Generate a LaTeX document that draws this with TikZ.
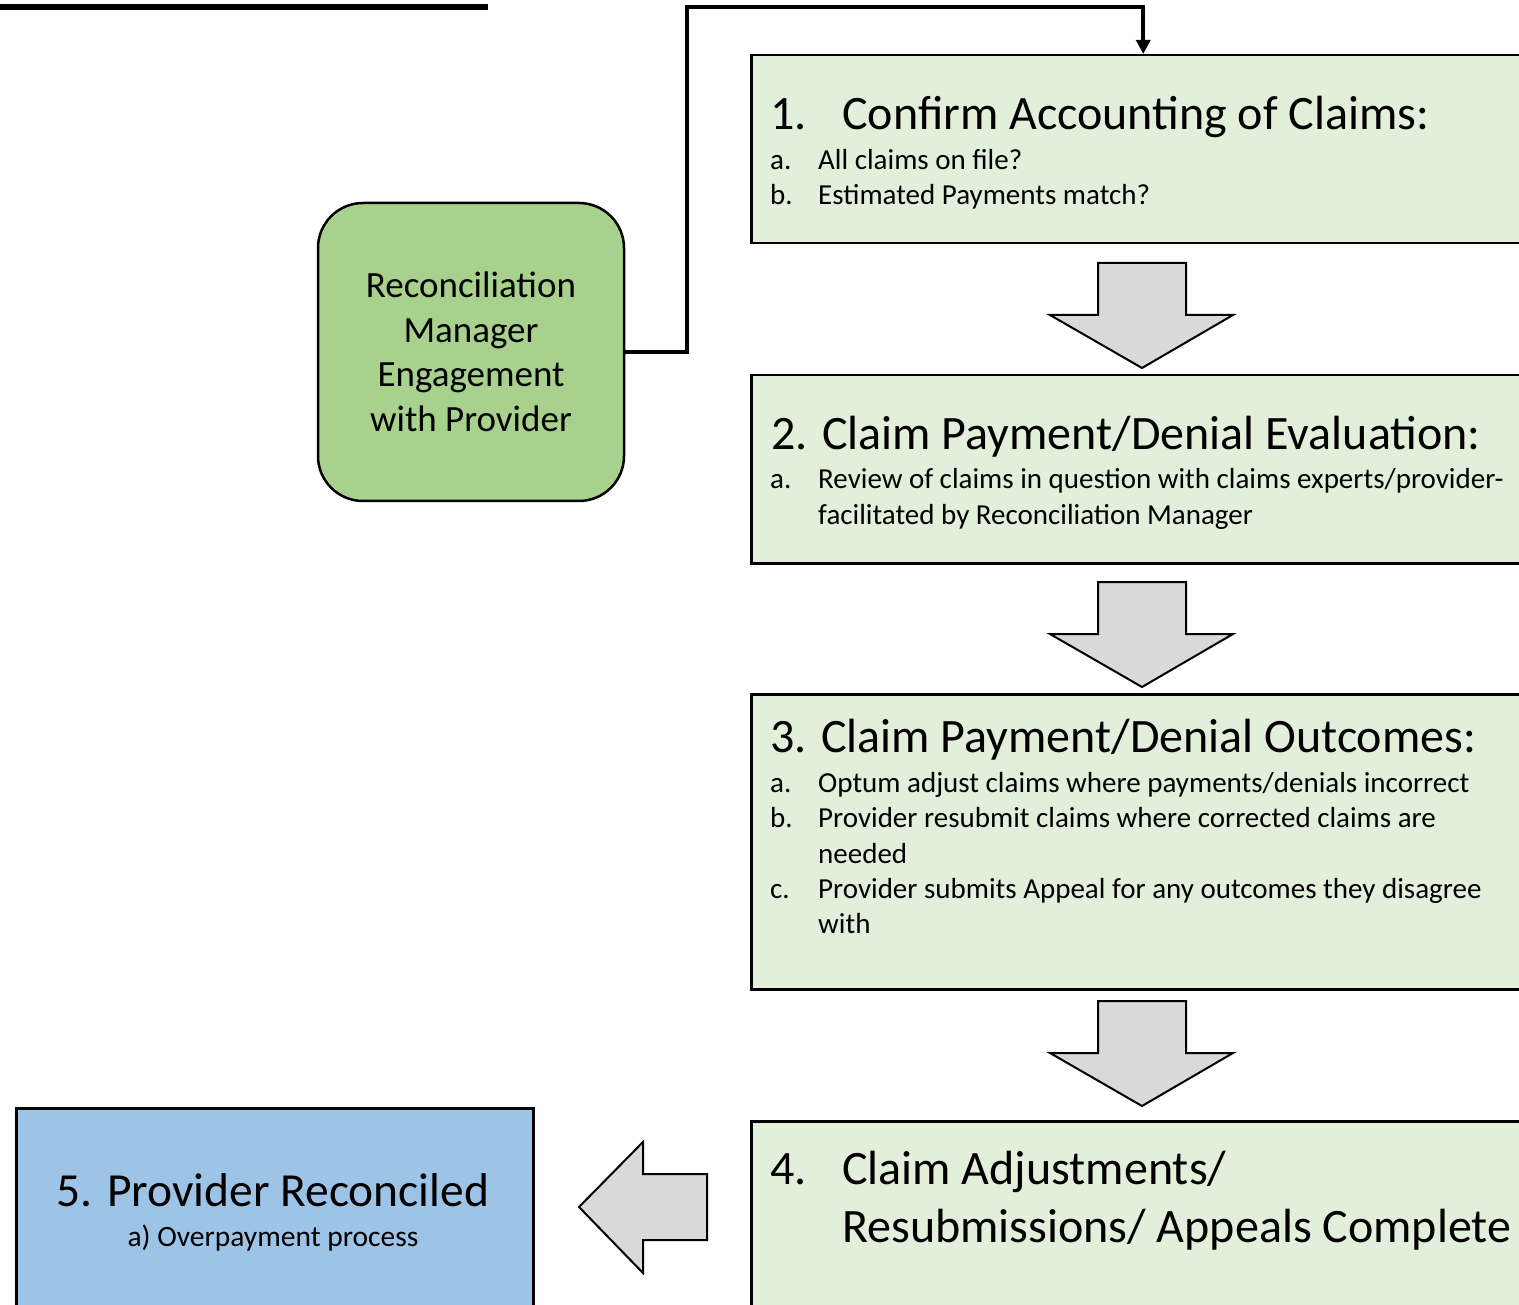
\documentclass[tikz,border=0pt]{standalone}
\usepackage{fontspec}
\setmainfont{Carlito}
\usetikzlibrary{positioning,arrows.meta}

\definecolor{stepgreen}{HTML}{E2EFDA}
\definecolor{mgrgreen}{HTML}{A9D18E}
\definecolor{doneblue}{HTML}{9DC3E6}
\definecolor{arrowgray}{HTML}{D9D9D9}

\tikzset{
  stepbox/.style={draw, line width=2.5pt, fill=stepgreen, anchor=north west,
    inner sep=0pt, minimum width=784pt},
  headtext/.style={anchor=base west, inner sep=0pt, font=\fontsize{48}{56}\selectfont},
  itemtext/.style={anchor=base west, inner sep=0pt, font=\fontsize{29}{34}\selectfont},
  blockarrow/.style={draw, line width=2pt, fill=arrowgray, line join=miter},
  conn/.style={line width=4pt, -{Triangle[length=14pt,width=14pt]}}
}

\begin{document}
\begin{tikzpicture}[x=1pt, y=-1pt]
  \useasboundingbox (0,0) rectangle (1519,1305);

  % Top rule
  \draw[line width=6pt] (0,7) -- (488,7);

  % Manager box
  \node[draw, line width=2.5pt, fill=mgrgreen, rounded corners=45pt,
        minimum width=306pt, minimum height=298pt, align=center,
        font=\fontsize{37}{44.5}\selectfont] (mgr) at (471,352)
        {Reconciliation\\Manager\\Engagement\\with Provider};

  % Step boxes
  \node[stepbox, minimum height=188pt] (box1) at (750,54) {};
  \node[stepbox, minimum height=188pt] (box2) at (750,374) {};
  \node[stepbox, minimum height=295pt] (box3) at (750,693) {};
  \node[stepbox, minimum height=220pt] (box4) at (750,1120) {};
  \node[draw, line width=2.5pt, fill=doneblue, anchor=north west, inner sep=0pt,
        minimum width=517pt, minimum height=220pt] (box5) at (15,1107) {};

  % Step 1 text
  \node[headtext] (h1n) at (770,130) {1.};
  \node[headtext] (h1) at (842,130) {Confirm Accounting of Claims:};
  \node[itemtext] (i1an) at (770,170) {a.};
  \node[itemtext] (i1a) at (818,170) {All claims on file?};
  \node[itemtext] (i1bn) at (770,205) {b.};
  \node[itemtext] (i1b) at (818,205) {Estimated Payments match?};

  % Step 2 text
  \node[headtext] (h2) at (771,450) {2. Claim Payment/Denial Evaluation:};
  \node[itemtext] (i2an) at (770,489) {a.};
  \node[itemtext] (i2a) at (818,489) {Review of claims in question with claims experts/provider-};
  \node[itemtext] (i2a2) at (818,525) {facilitated by Reconciliation Manager};

  % Step 3 text
  \node[headtext] (h3) at (770,752) {3. Claim Payment/Denial Outcomes:};
  \node[itemtext] (i3an) at (770,792) {a.};
  \node[itemtext] (i3a) at (818,792) {Optum adjust claims where payments/denials incorrect};
  \node[itemtext] (i3bn) at (770,827) {b.};
  \node[itemtext] (i3b) at (818,827) {Provider resubmit claims where corrected claims are};
  \node[itemtext] (i3b2) at (818,863) {needed};
  \node[itemtext] (i3cn) at (770,898) {c.};
  \node[itemtext] (i3c) at (818,898) {Provider submits Appeal for any outcomes they disagree};
  \node[itemtext] (i3c2) at (818,933) {with};

  % Step 4 text
  \node[headtext] (h4n) at (770,1184) {4.};
  \node[headtext] (h4) at (842,1184) {Claim Adjustments/};
  \node[headtext] (h4b) at (842,1242) {Resubmissions/ Appeals Complete};

  % Step 5 text
  \node[anchor=base, inner sep=0pt, font=\fontsize{47.5}{56}\selectfont] (h5) at (273,1206) {5. Provider Reconciled};
  \node[anchor=base, inner sep=0pt, font=\fontsize{29.5}{34}\selectfont] (i5) at (273,1246) {a) Overpayment process};

  % Down block arrows
  \foreach \ytop in {263,582,1001}
    \draw[blockarrow] (1098,\ytop) -- (1186,\ytop) -- (1186,\ytop+52) -- (1233,\ytop+52)
      -- (1142,\ytop+105) -- (1050,\ytop+52) -- (1098,\ytop+52) -- cycle;

  % Left block arrow
  \draw[blockarrow] (707,1174) -- (643,1174) -- (643,1142) -- (579,1207)
    -- (643,1273) -- (643,1240) -- (707,1240) -- cycle;

  % Connector from manager to step 1
  \coordinate (loop) at (687,7);
  \draw[conn] (mgr.east) -| (loop) -| (box1.north);
\end{tikzpicture}
\end{document}
